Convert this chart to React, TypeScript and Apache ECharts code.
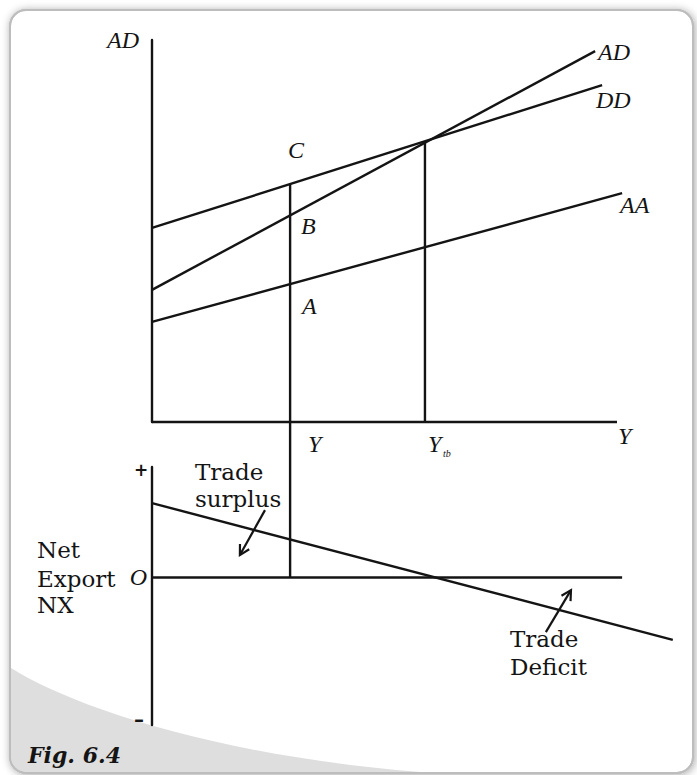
import React, { useEffect, useRef } from "react";
import * as echarts from "echarts";

// ---- data (conceptual units) ----
const xRange = [0, 11.5];
const xAxisEnd = 10;
const upperYRange = [0, 10];
const lowerYRange = [-4, 3];

const ddLine = [[0, 5.08], [9.68, 8.82]];
const adLine = [[0, 3.46], [9.53, 9.71]];
const aaLine = [[0, 2.62], [10.11, 5.99]];
const yLevel = 2.97;
const yTbLevel = 5.87;
const yLevelTopUpper = 6.23;
const yTbTop = 7.35;
const nxLine = [[0, 2.02], [11.2, -1.69]];
const zeroLineEnd = 10.11;
const yLevelTopLower = 4.22;
const arrows = [
  [2.43, 1.83, 1.89, 0.61],
  [8.47, -1.48, 9.01, -0.34],
];

const INK = "#141414";
const LW = 2.4;
const PX_PER_X = 46.5;

const italicFont = 'italic 24px "Liberation Serif"';
const uprightFont = '23px "DejaVu Serif"';

function txt(text: string, x: number, y: number, font: string, align = "left") {
  return {
    type: "text",
    x,
    y,
    z: 20,
    style: {
      text,
      font,
      fill: INK,
      align,
      verticalAlign: "middle",
      textAlign: align,
      textVerticalAlign: "middle",
    },
  };
}

function lineSeries(name: string, data: number[][], gridIdx: number) {
  return {
    name,
    type: "line",
    xAxisIndex: gridIdx,
    yAxisIndex: gridIdx,
    data,
    showSymbol: false,
    symbol: "none",
    clip: false,
    silent: true,
    lineStyle: { color: INK, width: LW, cap: "butt" },
    z: 5,
  };
}

export default function App() {
  const ref = useRef<HTMLDivElement>(null);

  useEffect(() => {
    if (!ref.current) return;
    const grayPath =
      "M11 668 C70 705 210 755 420 772 L27 772 Q11 772 11 756 Z";
    echarts.graphic.registerShape(
      "grayRegion",
      echarts.graphic.extendPath(grayPath, {}) as any
    );

    const chart = echarts.init(ref.current, undefined, { renderer: "svg" });
    const axisLine = { show: true, onZero: false, lineStyle: { color: INK, width: LW } };
    const gridWidth = (xRange[1] - xRange[0]) * PX_PER_X;
    const option: any = {
      animation: false,
      backgroundColor: "#ffffff",
      grid: [
        { left: 152, top: 40, width: gridWidth, height: 382 },
        { left: 152, top: 467, width: gridWidth, height: 258 },
      ],
      xAxis: [0, 1].map((g) => ({
        gridIndex: g,
        type: "value",
        min: xRange[0],
        max: xRange[1],
        axisLine: { show: false },
        axisTick: { show: false },
        axisLabel: { show: false },
        splitLine: { show: false },
      })),
      yAxis: [
        {
          gridIndex: 0,
          type: "value",
          min: upperYRange[0],
          max: upperYRange[1],
          axisLine,
          axisTick: { show: false },
          axisLabel: { show: false },
          splitLine: { show: false },
        },
        {
          gridIndex: 1,
          type: "value",
          min: lowerYRange[0],
          max: lowerYRange[1],
          axisLine,
          axisTick: { show: false },
          axisLabel: { show: false },
          splitLine: { show: false },
        },
      ],
      series: [
        lineSeries("Y axis", [[0, 0], [xAxisEnd, 0]], 0),
        lineSeries("DD", ddLine, 0),
        lineSeries("AD", adLine, 0),
        lineSeries("AA", aaLine, 0),
        lineSeries("Y", [[yLevel, 0], [yLevel, yLevelTopUpper]], 0),
        lineSeries("Ytb", [[yTbLevel, 0], [yTbLevel, yTbTop]], 0),
        lineSeries("NX", nxLine, 1),
        lineSeries("O", [[0, 0], [zeroLineEnd, 0]], 1),
        lineSeries("Y lower", [[yLevel, 0], [yLevel, yLevelTopLower]], 1),
        {
          type: "custom",
          coordinateSystem: "cartesian2d",
          xAxisIndex: 1,
          yAxisIndex: 1,
          clip: false,
          silent: true,
          z: 6,
          encode: { x: [0, 2], y: [1, 3] },
          data: arrows,
          renderItem: (params: any, api: any) => {
            const p1 = api.coord([api.value(0), api.value(1)]);
            const p2 = api.coord([api.value(2), api.value(3)]);
            const ang = Math.atan2(p2[1] - p1[1], p2[0] - p1[0]);
            const L = 11;
            const a = 0.5;
            const h1 = [p2[0] - L * Math.cos(ang - a), p2[1] - L * Math.sin(ang - a)];
            const h2 = [p2[0] - L * Math.cos(ang + a), p2[1] - L * Math.sin(ang + a)];
            return {
              type: "group",
              children: [
                {
                  type: "line",
                  shape: { x1: p1[0], y1: p1[1], x2: p2[0], y2: p2[1] },
                  style: { stroke: INK, lineWidth: 2.2 },
                },
                {
                  type: "polyline",
                  shape: { points: [h1, p2, h2] },
                  style: { stroke: INK, lineWidth: 2.2, fill: null },
                },
              ],
            };
          },
        },
      ],
      graphic: [
        {
          type: "rect",
          z: -10,
          shape: { x: 10, y: 10, width: 683, height: 763, r: 16 },
          style: {
            fill: "#ffffff",
            stroke: "#c2c2c2",
            lineWidth: 2,
            shadowBlur: 8,
            shadowColor: "rgba(0,0,0,0.35)",
            shadowOffsetX: 1,
            shadowOffsetY: 1,
          },
        },
        {
          type: "grayRegion",
          z: -9,
          x: 0,
          y: 0,
          scaleX: 1,
          scaleY: 1,
          style: { fill: "#dedede" },
        },
        {
          type: "rect",
          z: -8,
          shape: { x: 10, y: 10, width: 683, height: 763, r: 16 },
          style: { fill: null, stroke: "#bdbdbd", lineWidth: 2 },
        },
        txt("AD", 107, 40, italicFont),
        txt("AD", 598, 52, italicFont),
        txt("DD", 596, 100, italicFont),
        txt("AA", 620, 205, italicFont),
        txt("C", 288, 150, italicFont),
        txt("B", 301, 226, italicFont),
        txt("A", 302, 306, italicFont),
        txt("Y", 308, 444, italicFont),
        txt("Y", 428, 444, italicFont),
        txt("tb", 443, 453, 'italic 10px "Liberation Serif"'),
        txt("Y", 618, 436, italicFont),
        txt("O", 147, 577, italicFont, "right"),
        txt("+", 141, 470, 'bold 17px "DejaVu Sans"', "center"),
        txt("–", 139, 719, 'bold 20px "DejaVu Sans"', "center"),
        txt("Trade", 195, 472, uprightFont),
        txt("surplus", 195, 499, uprightFont),
        txt("Net", 37, 550, uprightFont),
        txt("Export", 37, 579, uprightFont),
        txt("NX", 37, 605, uprightFont),
        txt("Trade", 510, 639, uprightFont),
        txt("Deficit", 510, 667, uprightFont),
        txt("Fig. 6.4", 28, 755, 'italic bold 22px "DejaVu Serif"'),
      ],
    };
    chart.setOption(option);
    return () => chart.dispose();
  }, []);

  return (
    <div
      ref={ref}
      style={{ position: "fixed", left: 0, top: 0, width: 697, height: 775 }}
    />
  );
}
